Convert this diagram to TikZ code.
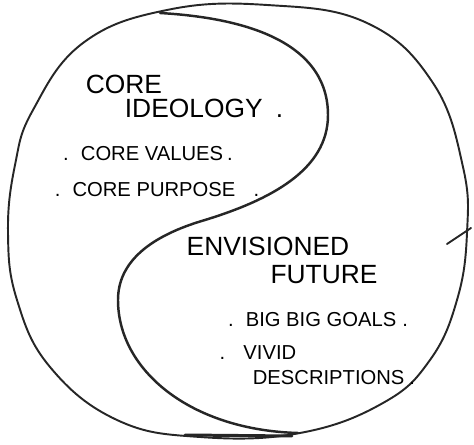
\documentclass[tikz,border=0pt]{standalone}
\usepackage{fontspec}
\setmainfont{Liberation Sans}
\usetikzlibrary{positioning}
\tikzstyle{heading} = [inner sep=0pt, font=\fontsize{15}{18}\selectfont]
\tikzstyle{item} = [inner sep=0pt, font=\fontsize{11.5}{14}\selectfont]
\tikzstyle{stroke} = [line width=1.1pt, line cap=round, draw=black!85]

\begin{document}
\begin{tikzpicture}[x=0.02cm, y=-0.02cm]
    \useasboundingbox (0,0) rectangle (474,445);

    % outer circle, drawn by hand
    \draw[stroke] plot[smooth cycle, tension=0.7] coordinates {(267,5) (367,23) (433,83) (463,167)
        (467,233) (457,300) (430,360) (383,403) (300,433) (200,437) (117,420) (50,367) (17,300)
        (8,233) (15,165) (33,110) (83,43) (167,10)};
    % the s-curve
    \draw[stroke, line width=1.4pt] (160,13) .. controls (280,20) and (328,60) .. (328,115)
        .. controls (328,170) and (270,200) .. (205,220)
        .. controls (150,236) and (118,262) .. (118,300)
        .. controls (118,370) and (190,430) .. (298,433);
    \draw[stroke, line width=1.7pt] (185,435) -- (292,436);
    \draw[stroke] (447,244) -- (471,228);

    % core ideology
    \node(core)[heading] at (124,84) {CORE};
    \node(ideology)[heading] at (204,108) {IDEOLOGY\hspace{0.5em}.};
    \node(values)[item] at (148,154) {.\hspace{0.6em}CORE VALUES\hspace{0.2em}.};
    \node(purpose)[item] at (157,190) {.\hspace{0.6em}CORE PURPOSE\hspace{0.9em}.};

    % envisioned future
    \node(envisioned)[heading] at (268,246) {ENVISIONED};
    \node(future)[heading] at (324,275) {FUTURE};
    \node(goals)[item] at (318,320) {.\hspace{0.6em}BIG BIG GOALS\hspace{0.3em}.};
    \node(vivid)[item] at (258,353) {.\hspace{0.9em}VIVID};
    \node(descriptions)[item] at (334,378) {DESCRIPTIONS\hspace{0.25em}.};

\end{tikzpicture}
\end{document}
